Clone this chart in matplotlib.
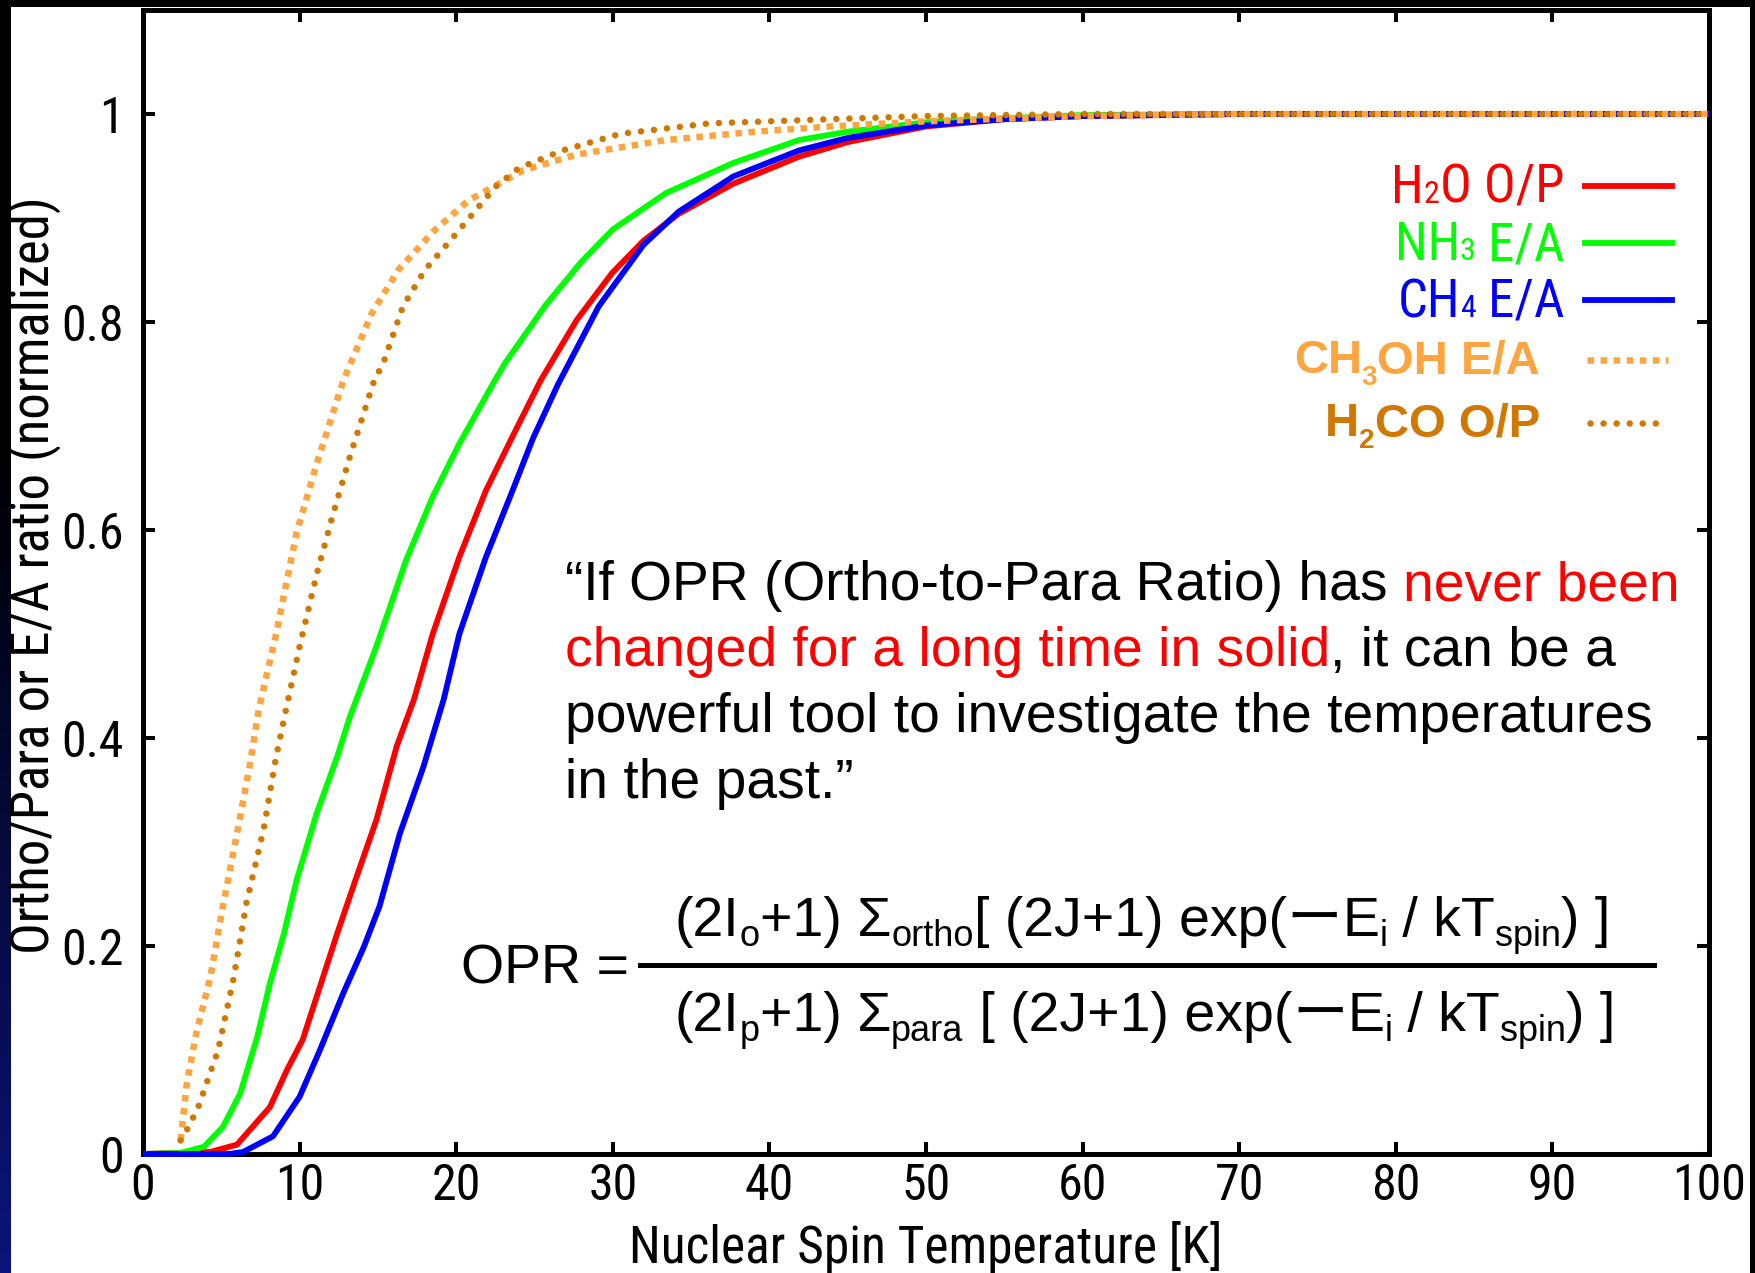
import numpy as np
import matplotlib
matplotlib.use("Agg")
import matplotlib.pyplot as plt
from matplotlib import font_manager
from matplotlib.lines import Line2D
from matplotlib.patches import Rectangle

# --- values (T in K, normalized ratio) ---
h2o_t = [0, 4.3, 6.0, 8.1, 9.2, 10.2, 11.3, 12.4, 13.65, 14.9, 16.2, 17.3, 18.5, 20.2, 21.9,
         23.6, 25.4, 27.7, 29.95, 31.95, 34.2, 37.7, 41.9, 45, 50, 55, 60, 70, 100]
h2o_v = [0, 0.002, 0.009, 0.045, 0.081, 0.110, 0.161, 0.212, 0.267, 0.321, 0.392, 0.437, 0.500, 0.574, 0.638,
         0.690, 0.744, 0.802, 0.847, 0.878, 0.904, 0.933, 0.959, 0.973, 0.988, 0.995, 0.998, 1.0, 1.0]

nh3_t = [0, 2.4, 3.9, 5.1, 6.2, 7.3, 8.1, 9.0, 9.8, 11.1, 12.4, 13.2, 14.9, 16.8, 18.5, 20.2, 22.4,
         23.1, 25.7, 28.0, 30.0, 33.4, 37.7, 41.9, 45, 50, 55, 60, 70, 100]
nh3_v = [0, 0.001, 0.007, 0.026, 0.058, 0.113, 0.164, 0.212, 0.263, 0.328, 0.382, 0.420, 0.488, 0.571, 0.632, 0.683, 0.742,
         0.760, 0.816, 0.858, 0.889, 0.924, 0.953, 0.975, 0.983, 0.992, 0.996, 0.999, 1.0, 1.0]

ch4_t = [0, 5.5, 6.4, 8.3, 10.0, 11.3, 12.8, 14.1, 15.1, 16.4, 17.9, 19.2, 20.2, 21.9, 23.6, 24.9,
         26.5, 29.1, 31.95, 34.2, 37.7, 41.9, 45, 50, 55, 60, 70, 100]
ch4_v = [0, 0, 0.002, 0.017, 0.055, 0.100, 0.155, 0.199, 0.238, 0.308, 0.372, 0.437, 0.500, 0.574, 0.638, 0.688,
         0.740, 0.815, 0.874, 0.906, 0.940, 0.965, 0.977, 0.989, 0.995, 0.998, 1.0, 1.0]

ch3oh_t = [2.4, 2.8, 3.4, 4.3, 5.1, 6.0, 6.8, 7.4, 8.5, 9.8, 11.1, 12.8, 14.6, 16.3, 18.6, 20.8,
           24.3, 27.7, 33.4, 39.1, 43.9, 50, 60, 70, 100]
ch3oh_v = [0.013, 0.068, 0.116, 0.170, 0.238, 0.308, 0.372, 0.428, 0.500, 0.597, 0.664, 0.744, 0.808, 0.850, 0.888, 0.917,
           0.946, 0.961, 0.975, 0.983, 0.988, 0.993, 0.998, 1.0, 1.0]

h2co_t = [2.4, 2.8, 3.5, 4.8, 5.8, 6.6, 7.7, 8.5, 9.1, 10.0, 11.1, 12.15, 13.2, 14.7, 15.4, 16.6, 18.0,
          20.0, 22.5, 24.0, 26.8, 30.5, 36.2, 43.9, 50, 60, 100]
h2co_v = [0.013, 0.023, 0.044, 0.100, 0.170, 0.241, 0.312, 0.382, 0.425, 0.488, 0.558, 0.616, 0.670, 0.741, 0.763, 0.815, 0.850,
          0.885, 0.930, 0.948, 0.965, 0.981, 0.991, 0.995, 0.998, 1.0, 1.0]

x_ticks = list(range(0, 101, 10))
y_ticks = [0, 0.2, 0.4, 0.6, 0.8, 1.0]
y_tick_labels = ["0", "0.2", "0.4", "0.6", "0.8", "1"]

RED, GREEN, BLUE = "#ff0000", "#00ff00", "#0000ff"
LIGHT_ORANGE, DARK_ORANGE = "#ffa53f", "#d07800"

W, H = 1755, 1273

# gnuplot's label font is a narrow sans; look for one
entries = font_manager.fontManager.ttflist
names = {f.name for f in entries}
NARROW = {"family": "Liberation Sans"}
narrow_found = False
for nm in ["Liberation Sans Narrow", "Arial Narrow", "Roboto Condensed", "Open Sans Condensed",
           "Noto Sans Condensed", "Archivo Narrow"]:
    if nm in names:
        NARROW = {"family": nm}
        narrow_found = True
        break
if not narrow_found:
    for fam in ["Liberation Sans", "Noto Sans", "Roboto", "Open Sans", "DejaVu Sans"]:
        if any(f.name == fam and str(f.stretch) in ("condensed", "semi-condensed", "extra-condensed")
               for f in entries):
            NARROW = {"family": fam, "stretch": "condensed"}
            narrow_found = True
            break

ARIAL = "Liberation Sans"
CJK = "Noto Sans CJK JP"
TICK_SIZE = 36 if narrow_found else 33

fig = plt.figure(figsize=(W / 100, H / 100), dpi=100, facecolor="black")
renderer = fig.canvas.get_renderer()

# white slide area + dark-blue strip on the left edge
fig.patches.append(Rectangle((11 / W, 0), (1750 - 11) / W, (H - 7) / H,
                             transform=fig.transFigure, facecolor="white", edgecolor="none", zorder=-10))
strip = fig.add_axes([0, 0, 11 / W, 1], zorder=-5)
grad = np.clip((np.linspace(0, 1, 256) - 0.35) / 0.65, 0, 1)
img = np.zeros((256, 1, 3))
img[:, 0, 0] = 0.04 * grad
img[:, 0, 1] = 0.08 * grad
img[:, 0, 2] = 0.48 * grad
strip.imshow(img, aspect="auto", extent=[0, 1, 0, 1], origin="upper")
strip.axis("off")

ax = fig.add_axes([143 / W, (H - 1154) / H, (1709 - 143) / W, (1154 - 10) / H])
ax.set_xlim(0, 100)
ax.set_ylim(0, 1.1)

solid = dict(lw=4.2, solid_capstyle="butt", clip_on=False, zorder=3)
ax.plot(h2o_t, h2o_v, color=RED, **solid)
ax.plot(nh3_t, nh3_v, color=GREEN, **solid)
ax.plot(ch4_t, ch4_v, color=BLUE, **solid)
ax.plot(ch3oh_t, ch3oh_v, color=LIGHT_ORANGE, lw=4.7, dashes=(1, 1), dash_capstyle="butt", zorder=4)
ax.plot(h2co_t, h2co_v, color=DARK_ORANGE, lw=4.7, dashes=(0.001, 2), dash_capstyle="round", zorder=4)

for s in ax.spines.values():
    s.set_linewidth(3.6)
ax.tick_params(direction="in", length=8.6, width=2.9, top=True, right=True,
               labelsize=TICK_SIZE, colors="black")
ax.tick_params(axis="y", pad=14)
ax.tick_params(axis="x", pad=6)
ax.set_xticks(x_ticks)
ax.set_yticks(y_ticks)
ax.set_yticklabels(y_tick_labels)
for lab in ax.get_xticklabels() + ax.get_yticklabels():
    lab.set_family(NARROW["family"])
    if "stretch" in NARROW:
        lab.set_stretch(NARROW["stretch"])

fig.text(926 / W, 1 - 1263 / H, "Nuclear Spin Temperature [K]", fontsize=TICK_SIZE + 1,
         ha="center", va="baseline", **NARROW)
fig.text(33 / W, 1 - 575 / H, "Ortho/Para or E/A ratio (normalized)", fontsize=TICK_SIZE + 2,
         rotation=90, ha="center", va="center", **NARROW)


def advance(s, props):
    t = fig.text(0, 0, s + "|", **props)
    b = fig.text(0, 0, "|", **props)
    w = t.get_window_extent(renderer).width - b.get_window_extent(renderer).width
    t.remove()
    b.remove()
    return w


def draw_runs(x, y, runs, align="left"):
    # x, y in pixels from the top-left corner, y is the baseline
    widths = [advance(s, p) for s, p, dy in runs]
    if align == "right":
        x -= sum(widths)
    for (s, p, dy), w in zip(runs, widths):
        fig.text(x / W, 1 - (y + dy) / H, s, ha="left", va="baseline", **p)
        x += w


# legend
def nrw(c, size=38):
    return dict(fontsize=size if narrow_found else size - 3, color=c, **NARROW)


def bld(c, size=34):
    return dict(family=ARIAL, fontsize=size, color=c, weight="bold")


draw_runs(1564, 203, [("H", nrw(RED), 0), ("2", nrw(RED, 23), 0), ("O O/P", nrw(RED), 0)], "right")
draw_runs(1564, 260, [("NH", nrw(GREEN), 0), ("3", nrw(GREEN, 23), 0), (" E/A", nrw(GREEN), 0)], "right")
draw_runs(1564, 317, [("CH", nrw(BLUE), 0), ("4", nrw(BLUE, 23), 0), (" E/A", nrw(BLUE), 0)], "right")
draw_runs(1540, 373, [("CH", bld(LIGHT_ORANGE), 0), ("3", bld(LIGHT_ORANGE, 20), 12),
                      ("OH E/A", bld(LIGHT_ORANGE), 0)], "right")
draw_runs(1540, 436, [("H", bld(DARK_ORANGE), 0), ("2", bld(DARK_ORANGE, 20), 12),
                      ("CO O/P", bld(DARK_ORANGE), 0)], "right")

for y, c in [(186, RED), (243, GREEN), (300, BLUE)]:
    fig.add_artist(Line2D([1585 / W, 1672 / W], [1 - y / H] * 2, color=c, lw=4.2))
fig.add_artist(Line2D([1587 / W, 1668 / W], [1 - 360 / H] * 2, color=LIGHT_ORANGE, lw=4.7,
                      dashes=(1, 1), dash_capstyle="butt"))
fig.add_artist(Line2D([1590 / W, 1668 / W], [1 - 423 / H] * 2, color=DARK_ORANGE, lw=4.7,
                      dashes=(0.001, 2), dash_capstyle="round"))

# quote
q = dict(family=ARIAL, fontsize=39.7, color="black")
qr = dict(family=ARIAL, fontsize=39.7, color=RED)
draw_runs(565, 600, [("\u201cIf OPR (Ortho-to-Para Ratio) has ", q, 0), ("never been", qr, 0)])
draw_runs(565, 666, [("changed for a long time in solid", qr, 0), (", it can be a", q, 0)])
draw_runs(565, 732, [("powerful tool to investigate the temperatures", q, 0)])
draw_runs(565, 798, [("in the past.\u201d", q, 0)])

# formula
m = dict(family=ARIAL, fontsize=40, color="black")
sb = dict(family=ARIAL, fontsize=26, color="black")
dash = dict(family=[CJK, ARIAL], fontsize=40, color="black")
draw_runs(461, 983, [("OPR =", m, 0)])
draw_runs(675, 936, [("(2I", m, 0), ("o", sb, 10), ("+1) \u03a3", m, 0), ("ortho", sb, 10),
                     ("[ (2J+1) exp(", m, 0), ("\u30fc", dash, 0), ("E", m, 0), ("i", sb, 10),
                     (" / kT", m, 0), ("spin", sb, 10), (") ]", m, 0)])
draw_runs(675, 1031, [("(2I", m, 0), ("p", sb, 10), ("+1) \u03a3", m, 0), ("para", sb, 10),
                      (" [ (2J+1) exp(", m, 0), ("\u30fc", dash, 0), ("E", m, 0), ("i", sb, 10),
                      (" / kT", m, 0), ("spin", sb, 10), (") ]", m, 0)])
fig.add_artist(Line2D([640 / W, 1654 / W], [1 - 965 / H] * 2, color="black", lw=3.6))

fig.savefig("out.png", dpi=100, facecolor=fig.get_facecolor())
